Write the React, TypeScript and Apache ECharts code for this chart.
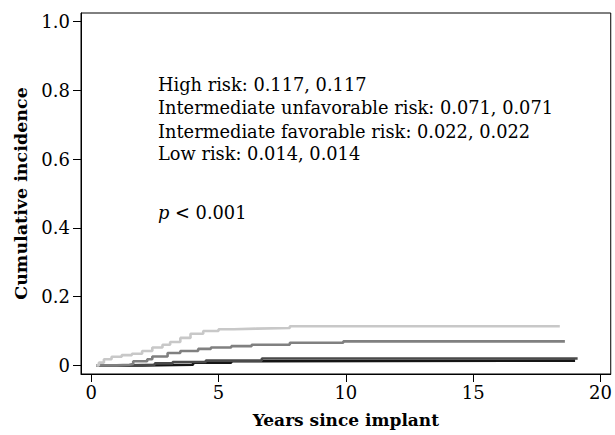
import React, { useEffect, useRef } from "react";
import * as echarts from "echarts";

// Cumulative incidence step curves: [years since implant, cumulative incidence]
const highRisk: [number, number][] = [
  [0.2, 0], [0.3, 0.008], [0.5, 0.018], [0.8, 0.025], [1.2, 0.03], [1.6, 0.034],
  [2.0, 0.042], [2.4, 0.052], [2.8, 0.06], [3.1, 0.068], [3.5, 0.08], [3.9, 0.092],
  [4.4, 0.1], [5.0, 0.105], [5.6, 0.107], [6.5, 0.109], [7.8, 0.114], [18.4, 0.114],
];
const intUnfavorable: [number, number][] = [
  [0.2, 0], [1.0, 0.002], [1.5, 0.004], [1.65, 0.012], [2.2, 0.018], [2.4, 0.026],
  [3.0, 0.036], [3.5, 0.042], [4.2, 0.048], [4.7, 0.052], [5.5, 0.056], [6.3, 0.06],
  [7.8, 0.066], [9.9, 0.07], [18.6, 0.07],
];
const intFavorable: [number, number][] = [
  [0.2, 0], [1.5, 0.002], [2.5, 0.006], [3.2, 0.01], [4.5, 0.014], [6.7, 0.02], [19.1, 0.02],
];
const lowRisk: [number, number][] = [
  [0.2, 0], [2.0, 0.002], [4.0, 0.008], [5.5, 0.012], [6.7, 0.014], [19.0, 0.014],
];

const xTicks = [0, 5, 10, 15, 20];
const yTicks = [0, 0.2, 0.4, 0.6, 0.8, 1.0];

const annotationLines = [
  "High risk: 0.117, 0.117",
  "Intermediate unfavorable risk: 0.071, 0.071",
  "Intermediate favorable risk: 0.022, 0.022",
  "Low risk: 0.014, 0.014",
];
const pValueText = "< 0.001";

const FONT = "DejaVu Serif";

export default function App() {
  const ref = useRef<HTMLDivElement>(null);
  useEffect(() => {
    if (!ref.current) return;
    const chart = echarts.init(ref.current, null, { renderer: "svg" });
    const lineSeries = (name: string, data: [number, number][], color: string) => ({
      name,
      type: "line",
      step: "end",
      data,
      symbol: "none",
      lineStyle: { color, width: 2.6 },
      silent: true,
    });
    const baselines = [84.6, 107.6, 131.6, 153.6];
    chart.setOption({
      animation: false,
      backgroundColor: "#fff",
      textStyle: { fontFamily: FONT },
      grid: {
        left: 81, top: 13, right: 4, bottom: 61,
        show: true, borderColor: "#000", borderWidth: 1,
      },
      xAxis: {
        type: "value",
        min: -0.4,
        max: 20.4,
        name: "Years since implant",
        nameLocation: "middle",
        nameGap: 37,
        nameTextStyle: { fontFamily: FONT, fontWeight: "bold", fontSize: 17, color: "#000" },
        axisLine: { show: true, onZero: false, lineStyle: { color: "#000", width: 1 } },
        axisTick: { show: true, inside: false, length: 8, customValues: xTicks, lineStyle: { color: "#000" } },
        axisLabel: { customValues: xTicks, margin: 9, fontFamily: FONT, fontSize: 18, color: "#000" },
        splitLine: { show: false },
      },
      yAxis: {
        type: "value",
        min: -0.025,
        max: 1.025,
        name: "Cumulative incidence",
        nameLocation: "middle",
        nameGap: 51,
        nameTextStyle: { fontFamily: FONT, fontWeight: "bold", fontSize: 17.5, color: "#000" },
        axisLine: { show: true, onZero: false, lineStyle: { color: "#000", width: 1 } },
        axisTick: { show: true, inside: false, length: 8, customValues: yTicks, lineStyle: { color: "#000" } },
        axisLabel: {
          customValues: yTicks,
          margin: 11,
          fontFamily: FONT,
          fontSize: 18,
          color: "#000",
          formatter: (v: number) => (Math.abs(v) < 1e-9 ? "0" : v.toFixed(1)),
        },
        splitLine: { show: false },
      },
      graphic: [
        ...annotationLines.map((t, i) => ({
          type: "text",
          left: 158,
          top: baselines[i] - 9,
          silent: true,
          style: { text: t, fontFamily: FONT, fontSize: 17.8, fill: "#000" },
        })),
        {
          type: "text",
          left: 158,
          top: 203,
          silent: true,
          style: {
            text: "{i|p} " + pValueText,
            fontFamily: FONT,
            fontSize: 17.8,
            fill: "#000",
            rich: { i: { fontFamily: FONT, fontSize: 17.8, fontStyle: "italic", fill: "#000" } },
          },
        },
      ],
      series: [
        lineSeries("Low risk", lowRisk, "#151515"),
        lineSeries("Intermediate favorable risk", intFavorable, "#4a4a4a"),
        lineSeries("Intermediate unfavorable risk", intUnfavorable, "#808080"),
        lineSeries("High risk", highRisk, "#c8c8c8"),
      ],
    });
    return () => chart.dispose();
  }, []);
  return <div ref={ref} style={{ width: 615, height: 435, position: "absolute", left: 0, top: 0 }} />;
}
